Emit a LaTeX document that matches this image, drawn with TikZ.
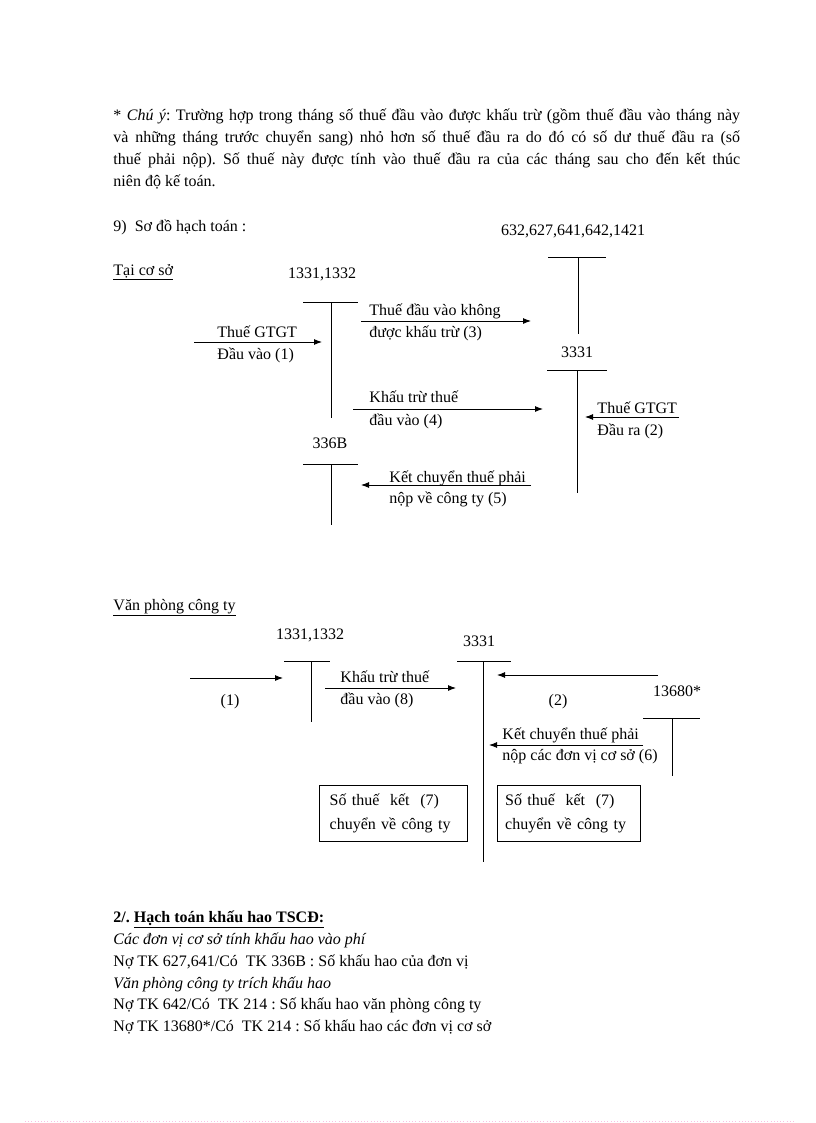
\documentclass[tikz,border=0pt]{standalone}
\usepackage{fontspec}
\setmainfont{Liberation Serif}
\usepackage{tikz}
\usetikzlibrary{arrows.meta}
\frenchspacing

\begin{document}
\begin{tikzpicture}[x=0.75pt,y=-0.75pt,>={Latex[length=6pt,width=4.5pt]},line width=0.7pt,
  font=\fontsize{12}{16.5}\selectfont,
  lbl/.style={anchor=base west,inner sep=0pt},
  num/.style={anchor=base,inner sep=0pt},
  hop/.style={draw,align=left,text width=95pt,minimum height=42pt,inner ysep=0pt}]
\useasboundingbox (0,0) rectangle (816,1123);
\node[lbl] (l1) at (113,121) {\makebox[470pt][s]{* \textit{Chú ý}: Trường hợp trong tháng số thuế đầu vào được khấu trừ (gồm thuế đầu vào tháng này}};
\node[lbl] (l2) at (113,143) {\makebox[470pt][s]{và những tháng trước chuyển sang) nhỏ hơn số thuế đầu ra do đó có số dư thuế đầu ra (số}};
\node[lbl] (l3) at (113,165) {\makebox[470pt][s]{thuế phải nộp). Số thuế này được tính vào thuế đầu ra của các tháng sau cho đến kết thúc}};
\node[lbl] (l4) at (113,187) {niên độ kế toán.};
\node[lbl] (so9) at (113,232) {9)\ \ Sơ đồ hạch toán :};
% Tai co so
\node[num] (n632) at (573,235) {632,627,641,642,1421};
\node[lbl] (taicoso) at (113,275) {\underline{Tại cơ sở}};
\draw (548,257) -- (606,257) (578,257) -- (578,334);
\node[num] (n1331) at (322,278) {1331,1332};
\draw (303,302) -- (358,302) (331,302) -- (331,418);
\node[num] (n3331) at (577,357) {3331};
\draw (547,370) -- (607,370) (577,370) -- (577,493);
\node[num] (n336) at (330,448) {336B};
\draw (303,464) -- (358,464) (331,464) -- (331,525);
\coordinate (a1s) at (194,342); \coordinate (a1e) at (322,342);
\draw[->] (a1s) -- (a1e);
\node[lbl] (t1a) at (217,337) {Thuế GTGT};
\node[lbl] (t1b) at (217,359) {Đầu vào (1)};
\coordinate (a3s) at (361,321); \coordinate (a3e) at (531,321);
\draw[->] (a3s) -- (a3e);
\node[lbl] (t3a) at (369,315) {Thuế đầu vào không};
\node[lbl] (t3b) at (369,337) {được khấu trừ (3)};
\coordinate (a4s) at (353,409); \coordinate (a4e) at (543,409);
\draw[->] (a4s) -- (a4e);
\node[lbl] (t4a) at (369,402) {Khấu trừ thuế};
\node[lbl] (t4b) at (369,425) {đầu vào (4)};
\coordinate (a2s) at (679,417); \coordinate (a2e) at (585,417);
\draw[->] (a2s) -- (a2e);
\node[lbl] (t2a) at (597,413) {Thuế GTGT};
\node[lbl] (t2b) at (597,435) {Đầu ra (2)};
\coordinate (a5s) at (531,485); \coordinate (a5e) at (361,485);
\draw[->] (a5s) -- (a5e);
\node[lbl] (t5a) at (389,482) {Kết chuyển thuế phải};
\node[lbl] (t5b) at (389,503) {nộp về công ty (5)};
% Van phong cong ty
\node[lbl] (vanphong) at (113,610) {\underline{Văn phòng công ty}};
\node[num] (m1331) at (310,639) {1331,1332};
\draw (284,661) -- (330,661) (311,661) -- (311,722);
\node[num] (m3331) at (479,646) {3331};
\draw (457,661) -- (511,661) (483,661) -- (483,862);
\node[num] (m13680) at (677,696) {13680*};
\draw (643,718) -- (700,718) (672,718) -- (672,776);
\coordinate (b1s) at (190,678); \coordinate (b1e) at (283,678);
\draw[->] (b1s) -- (b1e);
\node[num] (u1) at (230,705) {(1)};
\coordinate (b8s) at (325,688); \coordinate (b8e) at (456,688);
\draw[->] (b8s) -- (b8e);
\node[lbl] (u8a) at (340,682) {Khấu trừ thuế};
\node[lbl] (u8b) at (340,704) {đầu vào (8)};
\coordinate (b2s) at (658,675); \coordinate (b2e) at (497,675);
\draw[->] (b2s) -- (b2e);
\node[num] (u2) at (558,705) {(2)};
\coordinate (b6s) at (643,745); \coordinate (b6e) at (489,745);
\draw[->] (b6s) -- (b6e);
\node[lbl] (u6a) at (502,739) {Kết chuyển thuế phải};
\node[lbl] (u6b) at (502,760) {nộp các đơn vị cơ sở (6)};
\node[hop,inner xsep=8pt] (hop1) at (393,813) {Số thuế\ \ kết\ \ (7)\\[1.5pt]chuyển về công ty};
\node[hop,inner xsep=6.1pt] (hop2) at (568.5,813) {Số thuế\ \ kết\ \ (7)\\[1.5pt]chuyển về công ty};
% khau hao
\node[lbl] (k0) at (113,922) {\textbf{2/. \underline{Hạch toán khấu hao TSCĐ:}}};
\node[lbl] (k1) at (113,944) {\textit{Các đơn vị cơ sở tính khấu hao vào phí}};
\node[lbl] (k2) at (113,966) {Nợ TK 627,641/Có\ \ TK 336B : Số khấu hao của đơn vị};
\node[lbl] (k3) at (113,988) {\textit{Văn phòng công ty trích khấu hao}};
\node[lbl] (k4) at (113,1009) {Nợ TK 642/Có\ \ TK 214 : Số khấu hao văn phòng công ty};
\node[lbl] (k5) at (113,1031) {Nợ TK 13680*/Có\ \ TK 214 : Số khấu hao các đơn vị cơ sở};
\draw[magenta!25,dotted,line width=0.4pt] (25,1121) -- (796,1121);
\end{tikzpicture}
\end{document}
